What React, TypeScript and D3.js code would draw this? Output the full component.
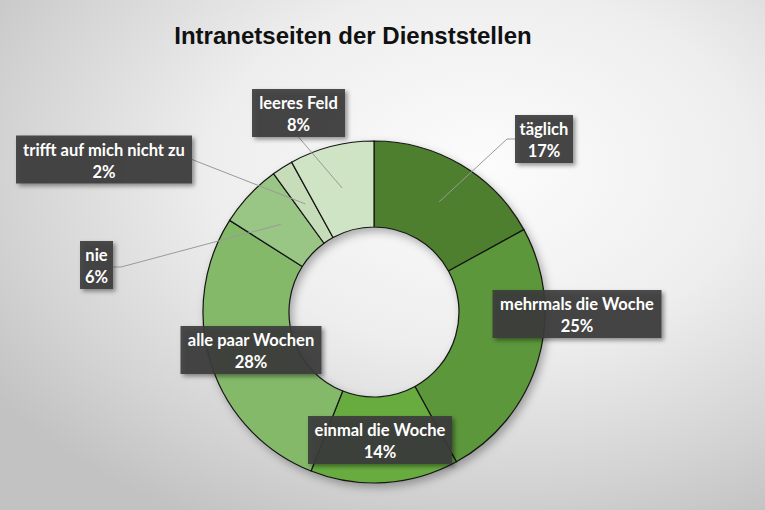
import React from "react";
import * as d3 from "d3";

const title = "Intranetseiten der Dienststellen";
const categories = [
  "täglich",
  "mehrmals die Woche",
  "einmal die Woche",
  "alle paar Wochen",
  "nie",
  "trifft auf mich nicht zu",
  "leeres Feld",
];
const values = [17, 25, 14, 28, 6, 2, 8];

const palette = ["#4e7f2e", "#5c973a", "#67ac40", "#84b96b", "#99c585", "#c7ddb9", "#cfe3c5"];

// label box layout: box center x, y and leader attachment side
const labelLayout = [
  { cx: 544, cy: 139, w: 58, side: "left", hook: 8 },
  { cx: 577, cy: 314, w: 169, side: "none", hook: 0 },
  { cx: 380, cy: 440, w: 144, side: "none", hook: 0 },
  { cx: 251, cy: 350, w: 141, side: "none", hook: 0 },
  { cx: 96.5, cy: 265, w: 33, side: "right", hook: 8 },
  { cx: 104, cy: 159.5, w: 176, side: "right", hook: 0 },
  { cx: 298.5, cy: 113, w: 93, side: "bottom", hook: 0 },
];

const W = 765;
const H = 510;
const cx = 374;
const cy = 312;
const outerR = 171;
const innerR = 85;
const boxH = 48;

export default function App() {
  const pie = d3
    .pie<number>()
    .sort(null)
    .value((d) => d)
    .startAngle(0)
    .endAngle(2 * Math.PI);
  const arcs = pie(values);
  const arcGen = d3.arc<d3.PieArcDatum<number>>().innerRadius(innerR).outerRadius(outerR);

  return (
    <div style={{ position: "absolute", left: 0, top: 0 }}>
      <svg width={W} height={H} style={{ display: "block" }}>
        <defs>
          <radialGradient id="bg" cx="0.63" cy="0.33" r="0.78" fx="0.63" fy="0.33">
            <stop offset="0" stopColor="#fcfcfc" />
            <stop offset="0.45" stopColor="#eeeeee" />
            <stop offset="0.8" stopColor="#d3d3d3" />
            <stop offset="1" stopColor="#c2c2c2" />
          </radialGradient>
          <filter id="shadow" x="-20%" y="-20%" width="150%" height="150%">
            <feDropShadow dx="2.5" dy="2.5" stdDeviation="2" floodColor="#000" floodOpacity="0.45" />
          </filter>
          <filter id="ringShadow" x="-20%" y="-20%" width="140%" height="140%">
            <feDropShadow dx="3" dy="4" stdDeviation="4" floodColor="#000" floodOpacity="0.3" />
          </filter>
        </defs>
        <rect x={0} y={0} width={W} height={H} fill="url(#bg)" />
        <text
          x={353}
          y={44}
          textAnchor="middle"
          fontFamily="Liberation Sans, Arial, sans-serif"
          fontWeight="bold"
          fontSize={24}
          fill="#111"
        >
          {title}
        </text>
        <g transform={`translate(${cx},${cy})`} filter="url(#ringShadow)">
          {arcs.map((a, i) => (
            <path key={i} d={arcGen(a) || ""} fill={palette[i]} stroke="#151515" strokeWidth={1.2} />
          ))}
        </g>
        {/* leader lines */}
        <g fill="none" stroke="#9a9a9a" strokeWidth={1}>
          {arcs.map((a, i) => {
            const L = labelLayout[i];
            if (L.side === "none") return null;
            const [px, py] = arcGen.centroid(a);
            const ax = px + cx;
            const ay = py + cy;
            let ex = 0,
              ey = 0,
              hx = 0;
            if (L.side === "left") {
              ex = L.cx - L.w / 2;
              ey = L.cy;
              hx = ex - L.hook;
              return <path key={i} d={`M${ax},${ay}L${hx},${ey}L${ex},${ey}`} />;
            }
            if (L.side === "right") {
              ex = L.cx + L.w / 2;
              ey = L.cy + (i === 4 ? 2 : 0);
              hx = ex + L.hook;
              return <path key={i} d={`M${ax},${ay}L${hx},${ey}L${ex},${ey}`} />;
            }
            ex = L.cx;
            ey = L.cy + boxH / 2;
            return <path key={i} d={`M${ax},${ay}L${ex},${ey}`} />;
          })}
        </g>
        {/* label boxes */}
        {arcs.map((a, i) => {
          const L = labelLayout[i];
          return (
            <g key={i}>
              <rect
                x={L.cx - L.w / 2}
                y={L.cy - boxH / 2}
                width={L.w}
                height={boxH}
                fill="#3c3c3c"
                fillOpacity={0.9}
                filter="url(#shadow)"
              />
              <text
                x={L.cx}
                y={L.cy - 4}
                textAnchor="middle"
                fontFamily="Lato, 'Open Sans', sans-serif"
                fontWeight="bold"
                fontSize={16.5}
                fill="#ffffff"
              >
                {categories[i]}
              </text>
              <text
                x={L.cx}
                y={L.cy + 18}
                textAnchor="middle"
                fontFamily="Lato, 'Open Sans', sans-serif"
                fontWeight="bold"
                fontSize={16.5}
                fill="#ffffff"
              >
                {`${values[i]}%`}
              </text>
            </g>
          );
        })}
      </svg>
    </div>
  );
}
